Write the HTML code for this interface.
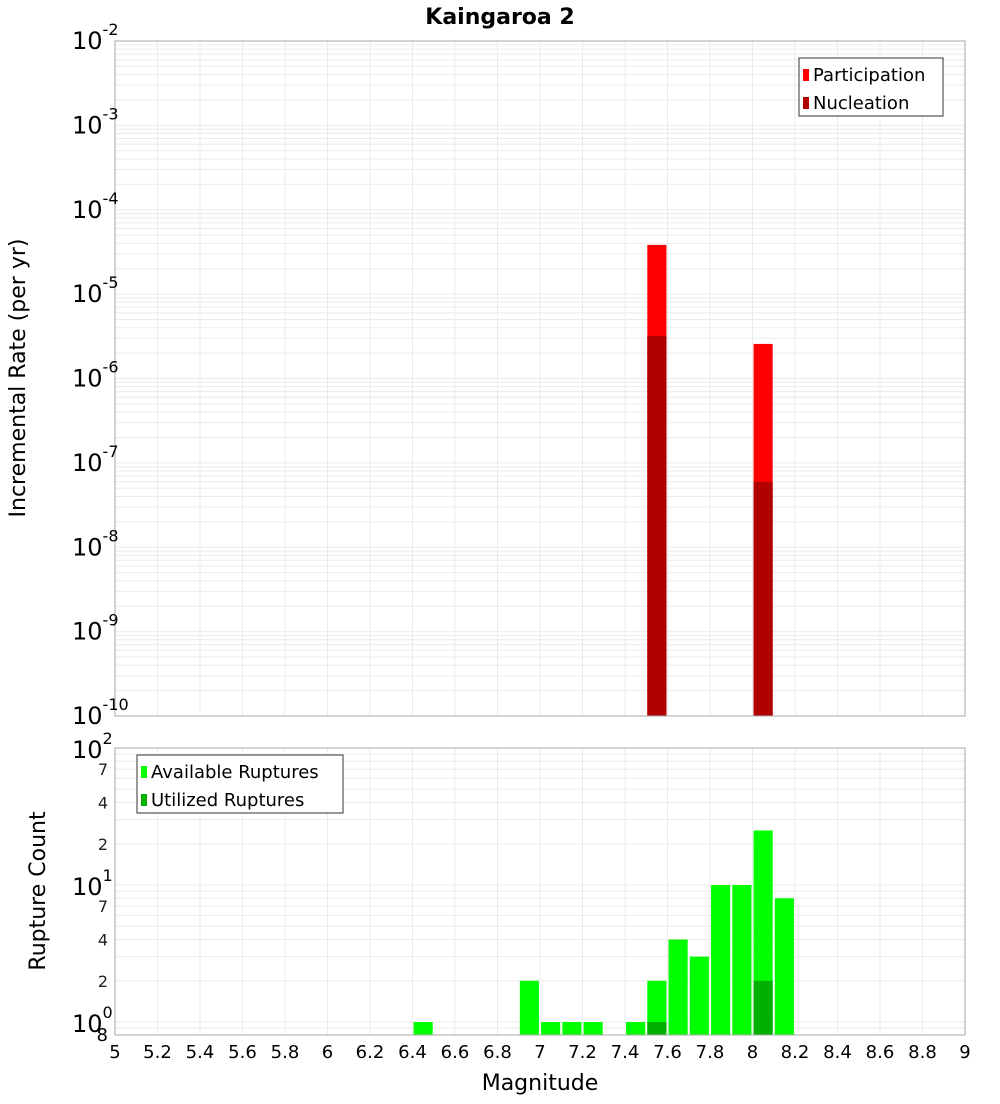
<!DOCTYPE html>
<html><head><meta charset="utf-8"><style>
body{margin:0;background:#fff;font-family:"DejaVu Sans","Liberation Sans",sans-serif}
svg text{font-family:"DejaVu Sans","Liberation Sans",sans-serif}
</style></head><body>
<svg id="c" width="1000" height="1100" xmlns="http://www.w3.org/2000/svg">
<text x="500" y="24" text-anchor="middle" font-size="22" font-weight="bold">Kaingaroa 2</text>
<text transform="translate(25,378) rotate(-90)" text-anchor="middle" font-size="22">Incremental Rate (per yr)</text>
<text transform="translate(45,891) rotate(-90)" text-anchor="middle" font-size="22">Rupture Count</text>
<text x="540" y="1090" text-anchor="middle" font-size="22">Magnitude</text>
<g id="g"></g>
</svg>
<script>
const rateMags=[7.55,8.05];
const participation=[3.83e-5,2.57e-6];
const nucleation=[3.2e-6,5.96e-8];
const countMags=[6.45,6.95,7.05,7.15,7.25,7.45,7.55,7.65,7.75,7.85,7.95,8.05,8.15];
const available=[1,2,1,1,1,1,2,4,3,10,10,25,8];
const utilMags=[7.55,8.05];
const utilized=[1,2];
const xTicks=["5","5.2","5.4","5.6","5.8","6","6.2","6.4","6.6","6.8","7","7.2","7.4","7.6","7.8","8","8.2","8.4","8.6","8.8","9"];
const topDecades=[-2,-3,-4,-5,-6,-7,-8,-9,-10];
const botMinorLabels=["2","4","7"];

const NS="http://www.w3.org/2000/svg";
const g=document.getElementById('g');
function el(t,a,p){const e=document.createElementNS(NS,t);for(const k in a)e.setAttribute(k,a[k]);(p||g).appendChild(e);return e;}
const X0=115,X1=965;
const xs=m=>X0+(m-5)/4*(X1-X0);
const T0=41,T1=716;
const yTop=v=>T0+(-2-Math.log10(v))/8*(T1-T0);
const B0=748,B1=1035,BPD=137;
const yBot=v=>1022-Math.log10(v)*BPD;

// top grid
for(let d=-10;d<-2;d++)for(let k=1;k<10;k++){const y=yTop(k*Math.pow(10,d));
 const l=el('line',{x1:X0,x2:X1,y1:y,y2:y,stroke:'#ebebeb','stroke-width':1});
 }
// bottom grid
for(let d=-1;d<2;d++)for(let k=1;k<10;k++){const v=k*Math.pow(10,d);const y=yBot(v);if(y>B1||y<B0)continue;
 const l=el('line',{x1:X0,x2:X1,y1:y,y2:y,stroke:'#ebebeb','stroke-width':1});
 }
xTicks.forEach(t=>{const x=xs(+t);
 [[T0,T1],[B0,B1]].forEach(r=>{const l=el('line',{x1:x,x2:x,y1:r[0],y2:r[1],stroke:'#ebebeb'});
 });
 const tx=el('text',{x:x,y:1058,'text-anchor':'middle','font-size':18});tx.textContent=t;
 });

// top bars
const bw=0.09;
rateMags.forEach((m,i)=>{
 const r=el('rect',{x:xs(m-bw/2),y:yTop(participation[i]),width:xs(m+bw/2)-xs(m-bw/2),height:T1-yTop(participation[i]),fill:'#ff0000'});
 
 const n=el('rect',{x:xs(m-bw/2),y:yTop(nucleation[i]),width:xs(m+bw/2)-xs(m-bw/2),height:T1-yTop(nucleation[i]),fill:'#b00000'});
 });
// bottom bars
countMags.forEach((m,i)=>{
 const r=el('rect',{x:xs(m-bw/2),y:yBot(available[i]),width:xs(m+bw/2)-xs(m-bw/2),height:B1-yBot(available[i]),fill:'#00ff00'});
 });
utilMags.forEach((m,i)=>{
 const r=el('rect',{x:xs(m-bw/2),y:yBot(utilized[i]),width:xs(m+bw/2)-xs(m-bw/2),height:B1-yBot(utilized[i]),fill:'#00b000'});
 });

// frames
let f=el('rect',{x:X0,y:T0,width:X1-X0,height:T1-T0,fill:'none',stroke:'#aaa'});

f=el('rect',{x:X0,y:B0,width:X1-X0,height:B1-B0,fill:'none',stroke:'#aaa'});


// top y labels
topDecades.forEach(d=>{const y=yTop(Math.pow(10,d));
 const t=el('text',{x:72,y:y+8,'font-size':24});t.textContent='10';
 
 const s=el('tspan',{dy:-14,'font-size':16},t);s.textContent=String(d);});
// bottom y labels
[0,1,2].forEach(d=>{const y=yBot(Math.pow(10,d));
 const t=el('text',{x:72,y:y+10,'font-size':24});t.textContent='10';
 
 const s=el('tspan',{dy:-14,'font-size':16},t);s.textContent=String(d);});
[0,1].forEach(d=>botMinorLabels.forEach(k=>{const y=yBot(+k*Math.pow(10,d));
 const t=el('text',{x:108,y:y+6,'font-size':16,'text-anchor':'end',fill:'#222'});t.textContent=k;
 }));
let e8=el('text',{x:108,y:1041,'font-size':18,'text-anchor':'end'});e8.textContent='8';


// legends
function legend(x,y,w,items,name){const lg=el('g',{});
 el('rect',{x:x,y:y,width:w,height:58,fill:'#fff',stroke:'#333'},lg);
 items.forEach((it,i)=>{el('rect',{x:x+4,y:y+11+i*28,width:6,height:12,fill:it[1]},lg);
  const t=el('text',{x:x+14,y:y+23+i*28,'font-size':18},lg);t.textContent=it[0];});}
legend(799,58,144,[['Participation','#ff0000'],['Nucleation','#b00000']],'top-legend');
legend(137,755,206,[['Available Ruptures','#00ff00'],['Utilized Ruptures','#00b000']],'bottom-legend');
</script>
</body></html>
